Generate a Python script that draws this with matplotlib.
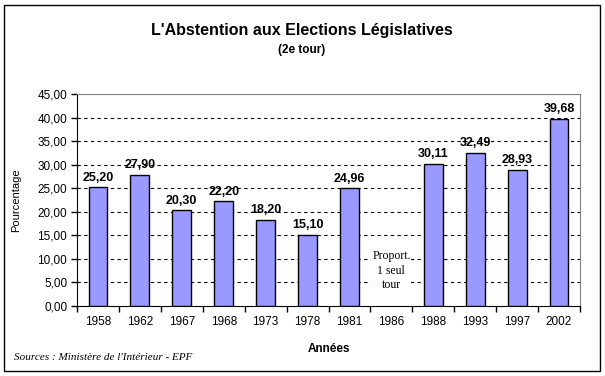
import matplotlib.pyplot as plt
from matplotlib.patches import Rectangle
from matplotlib.ticker import FixedLocator

# Data
years = ['1958', '1962', '1967', '1968', '1973', '1978', '1981',
         '1986', '1988', '1993', '1997', '2002']
abstention = [25.20, 27.90, 20.30, 22.20, 18.20, 15.10, 24.96,
              None, 30.11, 32.49, 28.93, 39.68]
y_ticks = [0, 5, 10, 15, 20, 25, 30, 35, 40, 45]

plt.rcParams['font.family'] = ['Liberation Sans', 'DejaVu Sans']

fig = plt.figure(figsize=(6.05, 3.76), dpi=100)
fig.patches.append(Rectangle((4 / 605, 5 / 376), 596 / 605, 366 / 376,
                             transform=fig.transFigure, fill=False,
                             edgecolor='black', linewidth=1))

# plot area in pixels: left 77, right 580, top 94, bottom 306
ax = fig.add_axes([77 / 605, 1 - 306 / 376, 503 / 605, 212 / 376])

xs = list(range(len(years)))
for x, v in zip(xs, abstention):
    if v is None:
        continue
    ax.bar(x, v, width=0.45, color='#9999FF', edgecolor='black', linewidth=1, zorder=3)
    ax.text(x, v + 0.8, f'{v:.2f}'.replace('.', ','), ha='center', va='bottom',
            fontsize=9, fontweight='bold', zorder=4)

# gap year note
ax.text(7, 7.5, 'Proport.\n1 seul\ntour', ha='center', va='center',
        family=['Liberation Serif', 'DejaVu Serif'], fontsize=8.5,
        linespacing=1.25, zorder=4,
        bbox=dict(facecolor='white', edgecolor='none', pad=0.5))

for t in y_ticks[1:-1]:
    ax.axhline(t, color='black', linestyle=(0, (3, 3)), linewidth=0.8, zorder=1)

ax.set_xlim(-0.5, len(years) - 0.5)
ax.set_ylim(0, 45)
ax.set_yticks(y_ticks)
ax.set_yticklabels([f'{t:.2f}'.replace('.', ',') for t in y_ticks], fontsize=8.5)
ax.set_xticks(xs)
ax.set_xticklabels(years, fontsize=8.5)
ax.tick_params(axis='x', length=0, pad=7)
ax.xaxis.set_minor_locator(FixedLocator([i - 0.5 for i in range(len(years) + 1)]))
ax.tick_params(axis='x', which='minor', length=4, direction='out', width=1)
ax.tick_params(axis='y', length=4, direction='out', width=1, pad=3)

for side in ['top', 'right']:
    ax.spines[side].set_color('#808080')
for side in ['left', 'bottom']:
    ax.spines[side].set_color('black')

ax.set_ylabel('Pourcentage', fontsize=8, labelpad=12)
ax.set_xlabel('Années', fontsize=8.5, fontweight='bold', labelpad=11)

fig.text(302 / 605, 1 - 30 / 376, "L'Abstention aux Elections Législatives",
         ha='center', va='center', fontsize=11.5, fontweight='bold')
fig.text(302 / 605, 1 - 50 / 376, '(2e tour)', ha='center', va='center',
         fontsize=8.5, fontweight='bold')
fig.text(14 / 605, 1 - 357 / 376, "Sources : Ministère de l'Intérieur - EPF",
         ha='left', va='center', fontsize=8, style='italic',
         family=['Liberation Serif', 'DejaVu Serif'])

fig.savefig('out.png', dpi=100)
